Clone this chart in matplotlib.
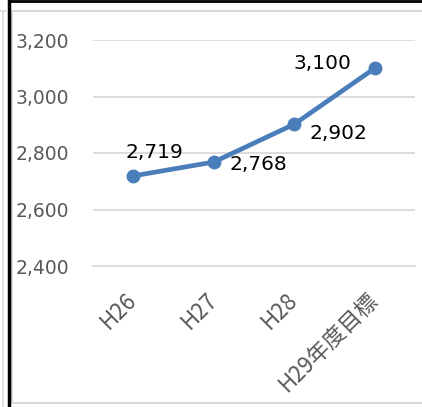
import matplotlib.pyplot as plt
from matplotlib.patches import Rectangle
from matplotlib.lines import Line2D


CATEGORIES = ["H26", "H27", "H28", "H29年度目標"]
VALUES = [2719, 2768, 2902, 3100]
LABELS = ["2,719", "2,768", "2,902", "3,100"]
Y_TICKS = [2400, 2600, 2800, 3000, 3200]

# label offsets in points (dx, dy) relative to each point
LABEL_OFFSETS = [(15, 16.5), (32, -1.5), (32, -6.5), (-38, 3.6)]


def main():
    plt.rcParams["font.family"] = ["DejaVu Sans", "Noto Sans CJK JP"]
    fig = plt.figure(figsize=(4.22, 4.07), dpi=100)
    W, H = 422, 407

    # surrounding spreadsheet decorations
    fig.add_artist(Rectangle((11.5 / W, 1 - 403 / H), 1, (403 - 10.5) / H,
                             transform=fig.transFigure, fill=False,
                             edgecolor="#d9d9d9", linewidth=1.5))
    fig.add_artist(Line2D([8.5 / W, 8.5 / W], [0, 1], transform=fig.transFigure,
                          color="black", linewidth=2.5))
    fig.add_artist(Line2D([8.5 / W, 1], [1 - 0.8 / H, 1 - 0.8 / H],
                          transform=fig.transFigure, color="black", linewidth=2))
    fig.add_artist(Line2D([0, 7 / W], [1 - 10.5 / H, 1 - 10.5 / H],
                          transform=fig.transFigure, color="#d9d9d9", linewidth=1.2))
    fig.add_artist(Line2D([3 / W, 3 / W], [0, 1 - 10.5 / H],
                          transform=fig.transFigure, color="#d9d9d9", linewidth=1.2))

    ax = fig.add_axes([93 / W, 1 - 266 / H, (415 - 93) / W, (266 - 40) / H])
    x = list(range(len(CATEGORIES)))
    ax.plot(x, VALUES, color="#4a7ebb", linewidth=3.4, marker="o",
            markersize=9, solid_capstyle="round", zorder=3)

    for xi, v, lab, (dx, dy) in zip(x, VALUES, LABELS, LABEL_OFFSETS):
        ax.annotate(lab, (xi, v), xytext=(dx, dy), textcoords="offset points",
                    ha="center", va="center", fontsize=14.5, color="black")

    ax.set_xlim(-0.5, len(CATEGORIES) - 0.5)
    ax.set_ylim(2400, 3200)
    ax.set_yticks(Y_TICKS)
    ax.set_yticklabels([f"{t:,}" for t in Y_TICKS])
    ax.set_xticks(x)
    ax.set_xticklabels(CATEGORIES, rotation=45, ha="right", va="center",
                       rotation_mode="anchor",
                       family=["Noto Sans CJK JP", "DejaVu Sans"])

    ax.grid(axis="y", color="#d9d9d9", linewidth=1.3)
    ax.set_axisbelow(True)
    for side in ["top", "right", "left"]:
        ax.spines[side].set_visible(False)
    ax.spines["bottom"].set_color("#d9d9d9")
    ax.spines["bottom"].set_linewidth(1.3)
    ax.tick_params(axis="y", length=0, pad=17, labelsize=13.5, labelcolor="#595959")
    ax.tick_params(axis="x", length=0, pad=22, labelsize=16, labelcolor="#595959")

    fig.savefig("out.png", dpi=100)


if __name__ == "__main__":
    main()
